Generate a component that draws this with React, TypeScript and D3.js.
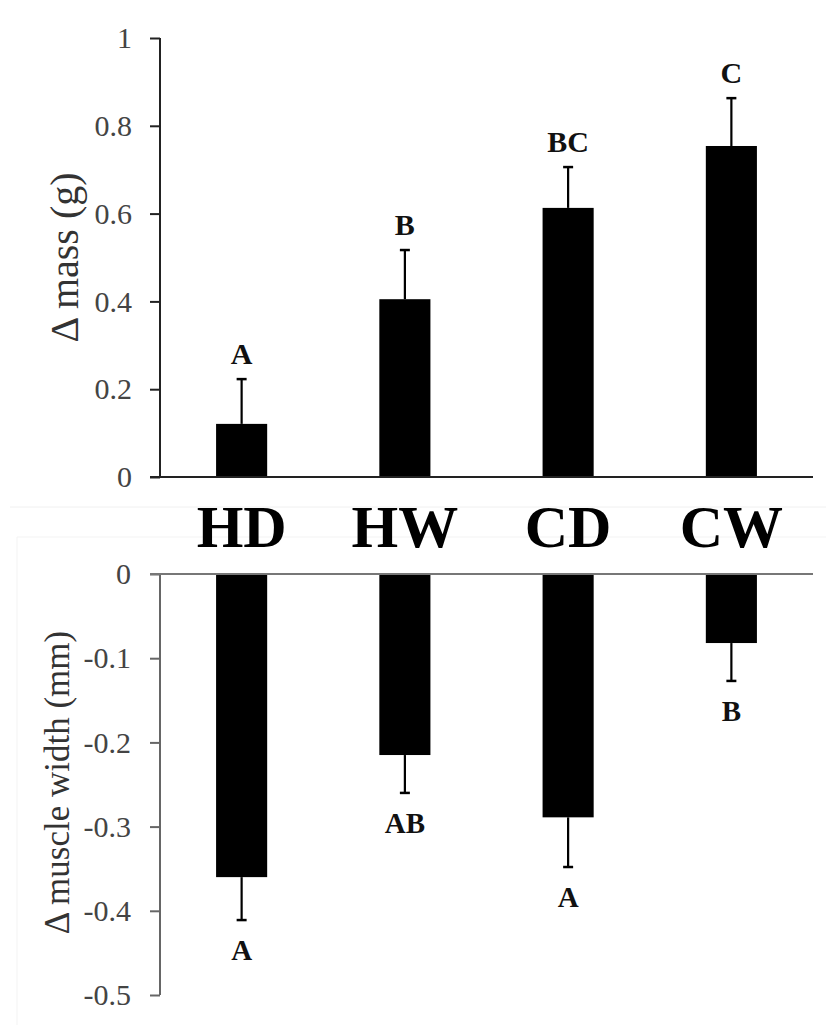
import React, { useEffect, useRef } from "react";
import * as d3 from "d3";

const categories = ["HD", "HW", "CD", "CW"];
const massValues = [0.121, 0.405, 0.613, 0.754];
const massErrors = [0.102, 0.112, 0.093, 0.109];
const massLetters = ["A", "B", "BC", "C"];
const widthValues = [-0.36, -0.215, -0.289, -0.082];
const widthErrors = [0.051, 0.045, 0.059, 0.045];
const widthLetters = ["A", "AB", "A", "B"];
const massTicks = [0, 0.2, 0.4, 0.6, 0.8, 1];
const widthTicks = [0, -0.1, -0.2, -0.3, -0.4, -0.5];

const W = 826;
const H = 1025;
const FONT = "'Liberation Serif', 'Times New Roman', serif";

export default function App() {
  const ref = useRef<SVGSVGElement | null>(null);

  useEffect(() => {
    const svg = d3.select(ref.current);
    svg.selectAll("*").remove();

    const x = d3
      .scaleBand<string>()
      .domain(categories)
      .range([160, 813])
      .paddingInner(0.687)
      .paddingOuter(0.3435);

    // faint scan artefacts (panel borders)
    svg.append("line").attr("x1", 10).attr("x2", W).attr("y1", 507).attr("y2", 507).attr("stroke", "#f0f0f0").attr("stroke-width", 1);
    svg.append("line").attr("x1", 17).attr("x2", W).attr("y1", 537).attr("y2", 537).attr("stroke", "#f3f3f3").attr("stroke-width", 1);
    svg.append("line").attr("x1", 17).attr("x2", 17).attr("y1", 537).attr("y2", H).attr("stroke", "#f3f3f3").attr("stroke-width", 1);

    // ---------- top panel ----------
    const yTop = d3.scaleLinear().domain([0, 1]).range([477, 38]);
    const top = svg.append("g");

    top
      .selectAll("rect.bar")
      .data(massValues)
      .join("rect")
      .attr("x", (_, i) => x(categories[i])!)
      .attr("width", x.bandwidth())
      .attr("y", (d) => yTop(d))
      .attr("height", (d) => yTop(0) - yTop(d))
      .attr("fill", "#000");

    massValues.forEach((v, i) => {
      const cx = x(categories[i])! + x.bandwidth() / 2;
      const ye = yTop(v + massErrors[i]);
      top.append("line").attr("x1", cx).attr("x2", cx).attr("y1", yTop(v)).attr("y2", ye).attr("stroke", "#000").attr("stroke-width", 2.2);
      top.append("line").attr("x1", cx - 5).attr("x2", cx + 5).attr("y1", ye).attr("y2", ye).attr("stroke", "#000").attr("stroke-width", 2.5);
      top
        .append("text")
        .attr("x", cx)
        .attr("y", ye - 15)
        .attr("text-anchor", "middle")
        .attr("font-family", FONT)
        .attr("font-weight", "bold")
        .attr("font-size", 30)
        .attr("fill", "#111")
        .text(massLetters[i]);
    });

    const axTop = top.append("g").attr("transform", "translate(160,0)");
    axTop
      .call(
        d3
          .axisLeft(yTop)
          .tickValues(massTicks)
          .tickSize(10)
          .tickPadding(18)
          .tickFormat((d) => d3.format("")(+d))
      )
      .call((g) => g.select(".domain").remove());
    axTop.selectAll(".tick line").attr("stroke", "#222").attr("stroke-width", 2);
    axTop
      .selectAll(".tick text")
      .attr("font-family", FONT)
      .attr("font-size", 30)
      .attr("fill", "#444");
    top.append("line").attr("x1", 160).attr("x2", 160).attr("y1", yTop(1)).attr("y2", yTop(0)).attr("stroke", "#222").attr("stroke-width", 2);
    top.append("line").attr("x1", 150).attr("x2", 813).attr("y1", yTop(0)).attr("y2", yTop(0)).attr("stroke", "#222").attr("stroke-width", 2);

    top
      .append("text")
      .attr("transform", `translate(78,${(yTop(0) + yTop(1)) / 2}) rotate(-90)`)
      .attr("text-anchor", "middle")
      .attr("font-family", FONT)
      .attr("font-size", 40)
      .attr("fill", "#333")
      .text("Δ mass (g)");

    // ---------- category labels ----------
    svg
      .append("g")
      .selectAll("text")
      .data(categories)
      .join("text")
      .attr("x", (d) => x(d)! + x.bandwidth() / 2)
      .attr("y", 547)
      .attr("text-anchor", "middle")
      .attr("font-family", FONT)
      .attr("font-weight", "bold")
      .attr("font-size", 60)
      .attr("fill", "#000")
      .text((d) => d);

    // ---------- bottom panel ----------
    const yBot = d3.scaleLinear().domain([0, -0.5]).range([574, 995]);
    const bot = svg.append("g");

    bot
      .selectAll("rect.bar")
      .data(widthValues)
      .join("rect")
      .attr("x", (_, i) => x(categories[i])!)
      .attr("width", x.bandwidth())
      .attr("y", yBot(0))
      .attr("height", (d) => yBot(d) - yBot(0))
      .attr("fill", "#000");

    widthValues.forEach((v, i) => {
      const cx = x(categories[i])! + x.bandwidth() / 2;
      const ye = yBot(v - widthErrors[i]);
      bot.append("line").attr("x1", cx).attr("x2", cx).attr("y1", yBot(v)).attr("y2", ye).attr("stroke", "#000").attr("stroke-width", 2.2);
      bot.append("line").attr("x1", cx - 5).attr("x2", cx + 5).attr("y1", ye).attr("y2", ye).attr("stroke", "#000").attr("stroke-width", 2.5);
      bot
        .append("text")
        .attr("x", cx)
        .attr("y", ye + 40)
        .attr("text-anchor", "middle")
        .attr("font-family", FONT)
        .attr("font-weight", "bold")
        .attr("font-size", 29)
        .attr("fill", "#111")
        .text(widthLetters[i]);
    });

    const axBot = bot.append("g").attr("transform", "translate(160,0)");
    axBot
      .call(
        d3
          .axisLeft(yBot)
          .tickValues(widthTicks)
          .tickSize(10)
          .tickPadding(19)
          .tickFormat((d) => d3.format("")(+d).replace("−", "-"))
      )
      .call((g) => g.select(".domain").remove());
    axBot.selectAll(".tick line").attr("stroke", "#666").attr("stroke-width", 2);
    axBot
      .selectAll(".tick text")
      .attr("font-family", FONT)
      .attr("font-size", 30)
      .attr("fill", "#444");
    bot.append("line").attr("x1", 160).attr("x2", 160).attr("y1", yBot(0)).attr("y2", yBot(-0.5)).attr("stroke", "#666").attr("stroke-width", 2);
    bot.append("line").attr("x1", 150).attr("x2", 813).attr("y1", yBot(0)).attr("y2", yBot(0)).attr("stroke", "#777").attr("stroke-width", 2);

    bot
      .append("text")
      .attr("transform", `translate(69,${(yBot(0) + yBot(-0.5)) / 2 - 2}) rotate(-90)`)
      .attr("text-anchor", "middle")
      .attr("font-family", FONT)
      .attr("font-size", 35)
      .attr("fill", "#333")
      .text("Δ muscle width (mm)");
  }, []);

  return (
    <svg
      ref={ref}
      width={W}
      height={H}
      style={{ position: "absolute", left: 0, top: 0, background: "#fff" }}
    />
  );
}
